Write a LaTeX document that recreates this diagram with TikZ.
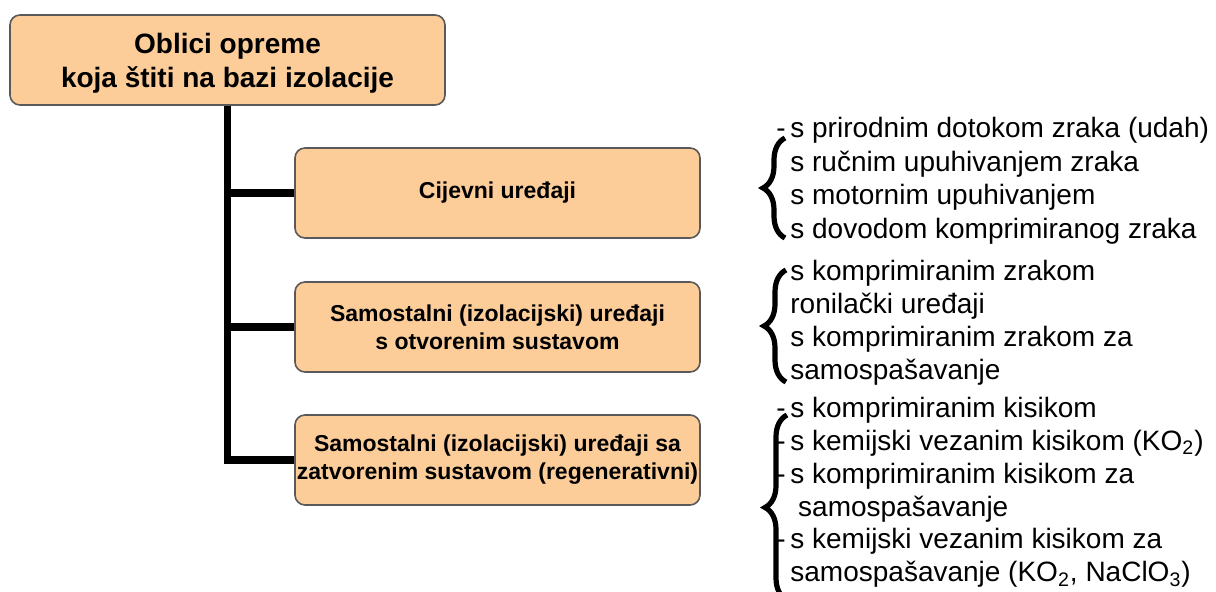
\documentclass[tikz,border=0pt]{standalone}
\usepackage{fontspec}
\setmainfont{Liberation Sans}
\usetikzlibrary{decorations.pathreplacing}
\definecolor{peach}{RGB}{252,204,153}

\begin{document}
\begin{tikzpicture}[x=0.5pt,y=-0.5pt,
	box/.style={draw=black!65, line width=0.8pt, fill=peach, rounded corners=5pt,
		align=center, inner sep=0pt, minimum width=202.5pt, minimum height=45pt,
		font=\bfseries\fontsize{11.5}{14}\selectfont},
	trunk/.style={line width=3.8pt},
	list/.style={anchor=north west, align=left, inner sep=0pt,
		font=\fontsize{14}{16.4}\selectfont},
	curly/.style={decorate, decoration={brace, amplitude=11pt}, line width=2.6pt}]

\useasboundingbox (0,0) rectangle (1216,592);

% main box
\node[box, minimum width=217.5pt, font=\bfseries\fontsize{14}{17}\selectfont] (oblici) at (227.5,60)
	{\rule{0pt}{13pt}Oblici opreme\\koja štiti na bazi izolacije};
% kinds
\node[box] (cijevni) at (497.5,193) {Cijevni uređaji};
\node[box] (otvoreni) at (497.5,327) {Samostalni (izolacijski) uređaji\\s otvorenim sustavom};
\node[box] (zatvoreni) at (497.5,460) {Samostalni (izolacijski) uređaji sa\\zatvorenim sustavom (regenerativni)};

% tree
\draw[trunk] (oblici.south) |- (cijevni.west);
\draw[trunk] (oblici.south) |- (otvoreni.west);
\draw[trunk] (oblici.south) |- (zatvoreni.west);

% lists
\node[list, font=\fontsize{14}{16.8}\selectfont] (popisA) at (790,117)
	{\llap{-\,}s prirodnim dotokom zraka (udah)\\
	 s ručnim upuhivanjem zraka\\
	 s motornim upuhivanjem\\
	 s dovodom komprimiranog zraka};
\node[list] (popisB) at (790,260)
	{s komprimiranim zrakom\\
	 ronilački uređaji\\
	 s komprimiranim zrakom za\\
	 samospašavanje};
\node[list] (popisC) at (790,397)
	{\llap{-\,}s komprimiranim kisikom\\
	 \llap{-\,}s kemijski vezanim kisikom (KO\textsubscript{2})\\
	 \llap{-\,}s komprimiranim kisikom za\\
	 \hspace*{3.9pt}samospašavanje\\
	 \llap{-\,}s kemijski vezanim kisikom za\\
	 samospašavanje (KO\textsubscript{2}, NaClO\textsubscript{3})};

% braces
\draw[curly] (785,238) -- (785,138);
\draw[curly] (786,382) -- (786,270);
\draw[curly] (787,600) -- (787,415);

\end{tikzpicture}
\end{document}
